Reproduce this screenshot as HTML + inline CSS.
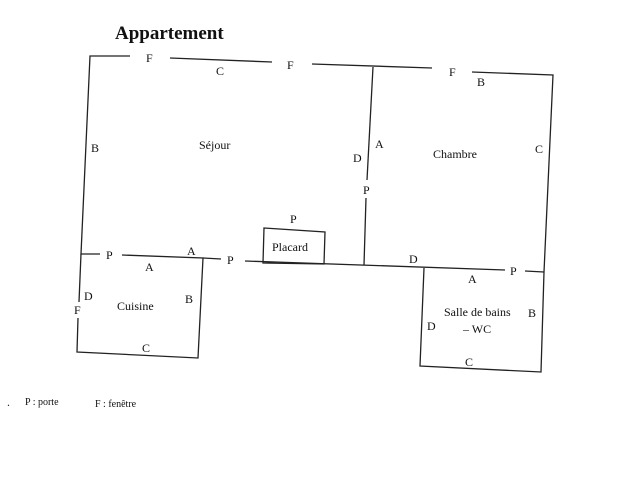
<!DOCTYPE html>
<html><head><meta charset="utf-8"><style>
body{margin:0;background:#fff}
svg{display:block}
text{font-family:"Liberation Serif",serif;font-size:12px;fill:#111}
</style></head><body>
<svg width="634" height="477" viewBox="0 0 634 477">
<g stroke="#222" stroke-width="1.3" fill="none">
<polyline points="130,56 90,56 81,254 100,254"/>
<line x1="170" y1="58" x2="272" y2="62"/>
<line x1="312" y1="64" x2="432" y2="68"/>
<polyline points="472,72 553,75 544,272 541,372 420,366 424,268"/>
<line x1="373" y1="67" x2="367" y2="180"/>
<line x1="366" y1="198" x2="364" y2="265"/>
<polyline points="122,255 203,258 198,358 77,352 78,318"/>
<line x1="81" y1="254" x2="79" y2="302"/>
<line x1="203" y1="258" x2="221" y2="259"/>
<line x1="245" y1="261" x2="505" y2="270"/>
<line x1="525" y1="271" x2="544" y2="272"/>
<polygon points="264,228 325,232 324,264 263,263"/>
</g>
<text x="115" y="39" style="font-size:19px;font-weight:bold">Appartement</text>
<text x="146" y="62">F</text>
<text x="216" y="75">C</text>
<text x="287" y="69">F</text>
<text x="449" y="76">F</text>
<text x="477" y="86">B</text>
<text x="91" y="152">B</text>
<text x="199" y="149">Séjour</text>
<text x="353" y="162">D</text>
<text x="375" y="148">A</text>
<text x="363" y="194">P</text>
<text x="433" y="158">Chambre</text>
<text x="535" y="153">C</text>
<text x="290" y="223">P</text>
<text x="272" y="251">Placard</text>
<text x="106" y="259">P</text>
<text x="187" y="255">A</text>
<text x="145" y="271">A</text>
<text x="227" y="264">P</text>
<text x="409" y="263">D</text>
<text x="468" y="283">A</text>
<text x="510" y="275">P</text>
<text x="84" y="300">D</text>
<text x="74" y="314">F</text>
<text x="117" y="310">Cuisine</text>
<text x="185" y="303">B</text>
<text x="142" y="352">C</text>
<text x="444" y="316">Salle de bains</text>
<text x="528" y="317">B</text>
<text x="427" y="330">D</text>
<text x="463" y="333">– WC</text>
<text x="465" y="366">C</text>
<text x="7" y="406">.</text>
<text x="25" y="405" style="font-size:10px">P : porte</text>
<text x="95" y="407" style="font-size:10px">F : fenêtre</text>
</svg>
</body></html>
